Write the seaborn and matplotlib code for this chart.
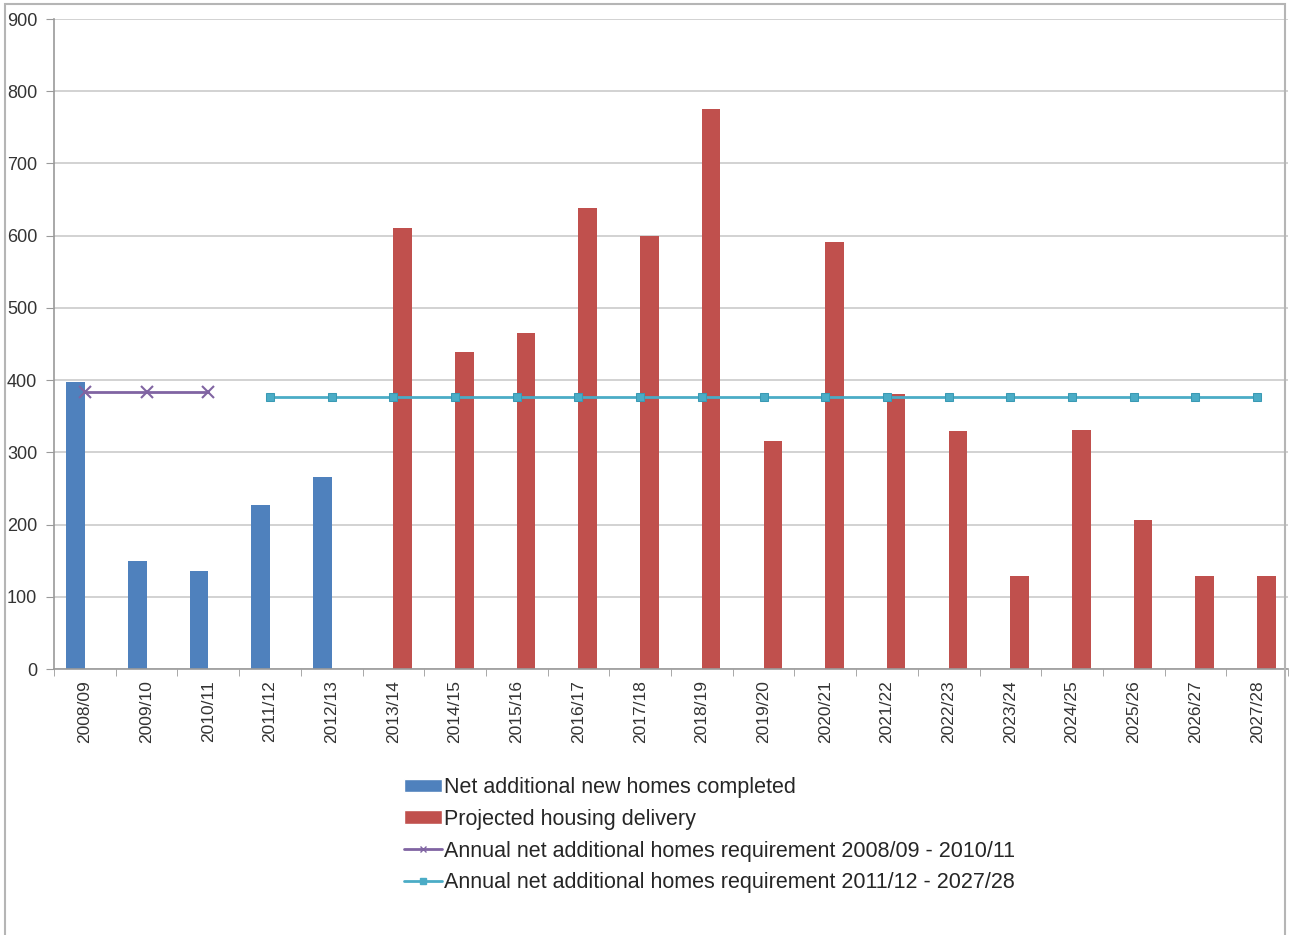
import matplotlib
matplotlib.use("Agg")
import matplotlib.pyplot as plt
from matplotlib.patches import Rectangle, Patch
from matplotlib.lines import Line2D
from matplotlib.ticker import FixedLocator, MultipleLocator
import seaborn as sns
import pandas as pd

categories = ["2008/09", "2009/10", "2010/11", "2011/12", "2012/13", "2013/14", "2014/15",
              "2015/16", "2016/17", "2017/18", "2018/19", "2019/20", "2020/21", "2021/22",
              "2022/23", "2023/24", "2024/25", "2025/26", "2026/27", "2027/28"]
completed_years = ["2008/09", "2009/10", "2010/11", "2011/12", "2012/13"]
completed_values = [398, 149, 136, 227, 266]
projected_years = ["2013/14", "2014/15", "2015/16", "2016/17", "2017/18", "2018/19", "2019/20",
                   "2020/21", "2021/22", "2022/23", "2023/24", "2024/25", "2025/26", "2026/27",
                   "2027/28"]
projected_values = [610, 439, 465, 638, 600, 776, 316, 591, 381, 330, 129, 331, 207, 129, 129]
req1_years = ["2008/09", "2009/10", "2010/11"]
req1_values = [384, 384, 384]
req2_years = categories[3:]
req2_values = [376] * len(req2_years)

series_names = ["Net additional new homes completed", "Projected housing delivery",
                "Annual net additional homes requirement 2008/09 - 2010/11",
                "Annual net additional homes requirement 2011/12 - 2027/28"]
colors = ["#4F81BD", "#C0504D", "#8064A2", "#4BACC6"]

sns.set_style("white")
plt.rcParams["font.family"] = ["Liberation Sans", "DejaVu Sans"]

W, H = 1289, 935
fig = plt.figure(figsize=(W / 100, H / 100), dpi=100)
ax = fig.add_axes([54 / W, 1 - 669 / H, (1288 - 54) / W, (669 - 19) / H])

df = pd.DataFrame({
    "year": completed_years + projected_years,
    "value": completed_values + projected_values,
    "series": [series_names[0]] * len(completed_years) + [series_names[1]] * len(projected_years),
})

sns.barplot(data=df, x="year", y="value", hue="series", order=categories,
            hue_order=series_names[:2], palette=colors[:2], width=0.6, gap=0,
            dodge=True, saturation=1, legend=False, ax=ax, linewidth=0)

sns.lineplot(x=[categories.index(c) for c in req1_years], y=req1_values, ax=ax,
             color=colors[2], linewidth=2, marker="x", markersize=8, markeredgewidth=1.5,
             markeredgecolor=colors[2])
sns.lineplot(x=[categories.index(c) for c in req2_years], y=req2_values, ax=ax,
             color=colors[3], linewidth=2, marker="s", markersize=6,
             markeredgecolor="#3A9AB4", markerfacecolor=colors[3])

ax.set_xlim(-0.5, len(categories) - 0.5)
ax.set_ylim(0, 900)
ax.yaxis.set_major_locator(MultipleLocator(100))
ax.set_xlabel("")
ax.set_ylabel("")
ax.yaxis.grid(True, color="#cfcfcf", linewidth=1.3)
ax.set_axisbelow(True)
for s in ["top", "right"]:
    ax.spines[s].set_visible(False)
for s in ["left", "bottom"]:
    ax.spines[s].set_color("#9a9a9a")
    ax.spines[s].set_linewidth(1.2)

ax.set_xticks(range(len(categories)))
ax.set_xticklabels(categories, rotation=90, fontsize=12.5, color="#333333")
ax.xaxis.set_minor_locator(FixedLocator([i + 0.5 for i in range(-1, len(categories))]))
ax.tick_params(axis="x", which="major", length=0, pad=8)
ax.tick_params(axis="x", which="minor", length=5, color="#9a9a9a", bottom=True)
ax.tick_params(axis="y", which="major", length=6, color="#9a9a9a", labelsize=13,
               labelcolor="#333333", pad=6, left=True)

handles = [
    Patch(facecolor=colors[0]),
    Patch(facecolor=colors[1]),
    Line2D([], [], color=colors[2], linewidth=2, marker="x", markersize=5),
    Line2D([], [], color=colors[3], linewidth=2, marker="s", markersize=4),
]
fig.legend(handles, series_names, loc="upper left", bbox_to_anchor=(404 / W, 1 - 777 / H),
           frameon=False, fontsize=15.5, handlelength=1.75, handleheight=0.6,
           handletextpad=0.1, labelspacing=0.5, borderpad=0, borderaxespad=0)

fig.patches.append(Rectangle((5 / W, -0.05), 1280 / W, 1.05 - 4 / H, transform=fig.transFigure,
                             fill=False, edgecolor="#b5b5b5", linewidth=1.5))

fig.savefig("out.png", dpi=100)
